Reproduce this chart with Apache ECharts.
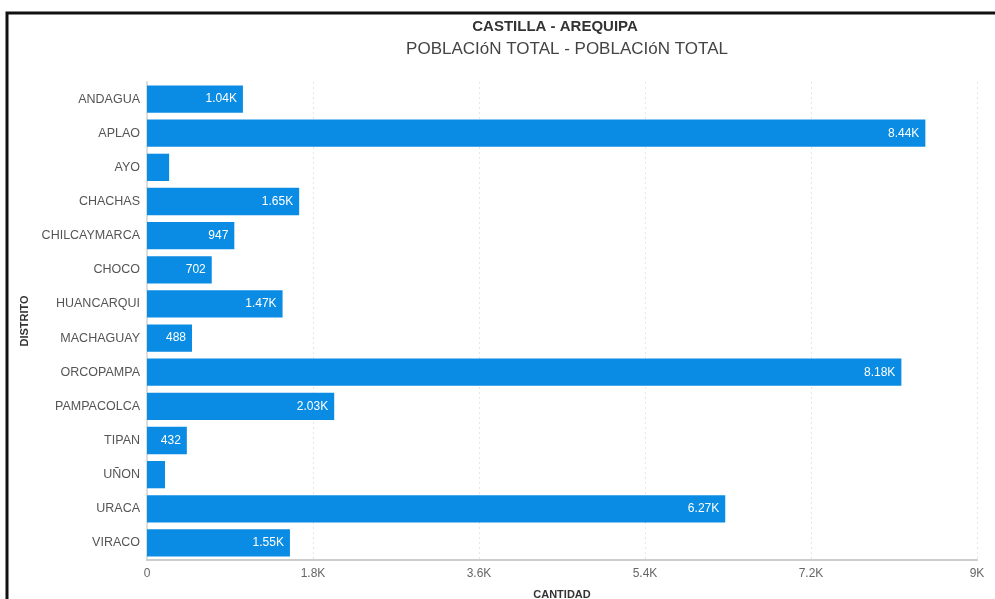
<!DOCTYPE html>
<html>
<head>
<meta charset="utf-8">
<script src="https://cdn.jsdelivr.net/npm/echarts@6/dist/echarts.min.js"></script>
<style>
html,body{margin:0;padding:0;background:#fff;}
#chart{width:995px;height:599px;}
</style>
</head>
<body>
<div id="chart"></div>
<script>
const categories = ["ANDAGUA","APLAO","AYO","CHACHAS","CHILCAYMARCA","CHOCO","HUANCARQUI","MACHAGUAY","ORCOPAMPA","PAMPACOLCA","TIPAN","UÑON","URACA","VIRACO"];
const values = [1040, 8440, 240, 1650, 947, 702, 1470, 488, 8180, 2030, 432, 195, 6270, 1550];
const axisMax = 9000;
const axisStep = 1800;

function fmtK(v){
  if (v >= 1000) {
    const s = (v/1000).toFixed(2).replace(/\.?0+$/, '');
    return s + 'K';
  }
  return String(v);
}

const chart = echarts.init(document.getElementById('chart'), null, {renderer:'canvas'});
chart.setOption({
  animation: false,
  textStyle: {fontFamily: 'Liberation Sans, Arial, sans-serif'},
  title: [{
    text: 'CASTILLA - AREQUIPA',
    left: 550, top: 14, textAlign: 'center',
    textStyle: {fontSize: 15, fontWeight: 'bold', color: '#333', fontFamily: 'Liberation Sans'}
  },{
    text: 'POBLACIóN TOTAL - POBLACIóN TOTAL',
    left: 562, top: 36, textAlign: 'center',
    textStyle: {fontSize: 17, fontWeight: 'normal', color: '#444', fontFamily: 'Liberation Sans'}
  }],
  graphic: [{
    type: 'polyline', silent: true,
    shape: {points: [[7, 600], [7, 13], [995, 13]]},
    style: {stroke: '#111', lineWidth: 3, fill: null}
  }],
  grid: {left: 147, right: 18, top: 82, bottom: 39, outerBoundsMode: 'none', containLabel: false},
  xAxis: {
    type: 'value', min: 0, max: axisMax, interval: axisStep,
    name: 'CANTIDAD', nameLocation: 'middle', nameGap: 29,
    nameTextStyle: {fontSize: 11, fontWeight: 'bold', color: '#333'},
    axisLine: {show: true, lineStyle: {color: '#ccc', width: 2}},
    axisTick: {show: false},
    axisLabel: {color: '#666', fontSize: 12, margin: 8, formatter: v => v === 0 ? '0' : fmtK(v)},
    splitLine: {show: true, lineStyle: {color: '#e6e6e6', type: [2, 3]}}
  },
  yAxis: {
    type: 'category', data: categories, inverse: true,
    name: 'DISTRITO', nameLocation: 'middle', nameGap: 117, nameRotate: 90,
    nameTextStyle: {fontSize: 11, fontWeight: 'bold', color: '#333'},
    axisLine: {show: true, lineStyle: {color: '#ddd', width: 2}},
    axisTick: {show: false},
    axisLabel: {color: '#555', fontSize: 12.5, margin: 7}
  },
  series: [{
    type: 'bar', data: values, barCategoryGap: '20%',
    itemStyle: {color: '#0a8ce4'},
    label: {
      show: true, position: 'insideRight', color: '#fff', fontSize: 12, distance: 6,
      formatter: p => p.value < 300 ? '' : fmtK(p.value)
    }
  }]
});
</script>
</body>
</html>
